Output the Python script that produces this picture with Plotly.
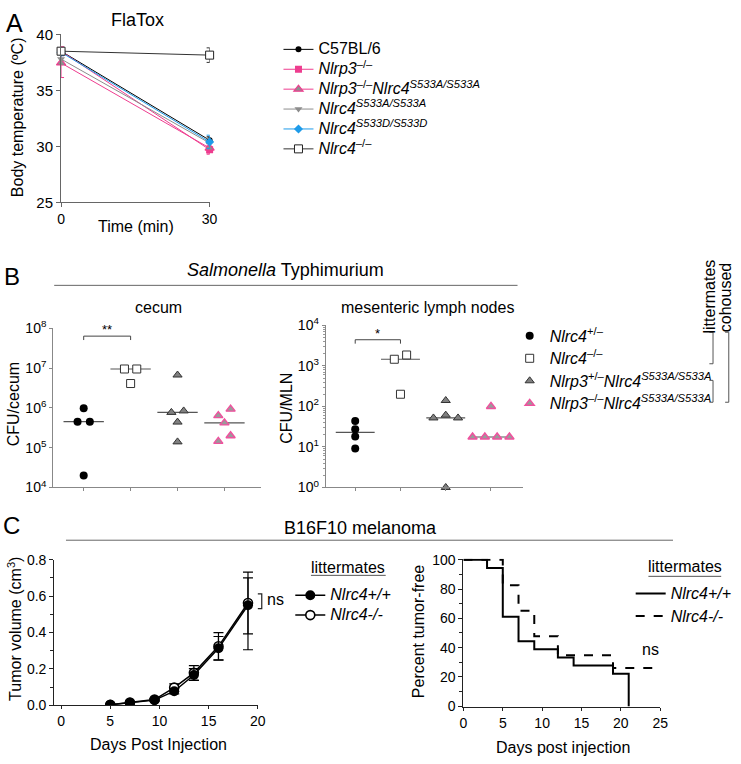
import numpy as np
import plotly.graph_objects as go

W, H = 741, 764
FONT = "Liberation Sans, Arial, sans-serif"

# ---------------- Panel A data (FlaTox, body temperature) ----------------
a_time = [0, 30]
a_names = ["C57BL/6",
           "<i>Nlrp3</i><sup>–/–</sup>",
           "<i>Nlrp3</i><sup>–/–</sup><i>Nlrc4</i><sup><i>S533A/S533A</i></sup>",
           "<i>Nlrc4</i><sup><i>S533A/S533A</i></sup>",
           "<i>Nlrc4</i><sup><i>S533D/S533D</i></sup>",
           "<i>Nlrc4</i><sup>–/–</sup>"]
a_c57bl6 = [38.5, 30.55]
a_c57bl6_sem = [0.25, 0.3]
a_nlrp3_ko = [38.5, 29.7]
a_nlrp3_ko_sem = [0.4, 0.4]
a_nlrp3_ko_sa = [37.45, 29.85]
a_nlrp3_ko_sa_sem = [1.3, 0.45]
a_nlrc4_sa = [37.8, 30.3]
a_nlrc4_sa_sem = [0.5, 0.4]
a_nlrc4_sd = [38.4, 30.4]
a_nlrc4_sd_sem = [0.3, 0.6]
a_nlrc4_ko = [38.5, 38.15]
a_nlrc4_ko_sem = [0.2, 0.65]

# ---------------- Panel B data (Salmonella CFU) ----------------
b_names = ["<i>Nlrc4</i><sup>+/–</sup>",
           "<i>Nlrc4</i><sup>–/–</sup>",
           "<i>Nlrp3</i><sup>+/–</sup><i>Nlrc4</i><sup><i>S533A/S533A</i></sup>",
           "<i>Nlrp3</i><sup>–/–</sup><i>Nlrc4</i><sup><i>S533A/S533A</i></sup>"]
cecum_het = [9.8e5, 4.5e5, 4.5e5, 2e4]
cecum_ko = [9.5e6, 9.5e6, 4.1e6]
cecum_sa_het = [6.7e6, 8.4e5, 7.7e5, 4.4e5, 1.4e5]
cecum_sa_ko = [9.3e5, 6.4e5, 4.2e5, 2.0e5, 1.44e5]
mln_het = [44, 27.5, 18.2, 9.2]
mln_ko = [1860, 1460, 200]
mln_sa_het = [140, 61, 52, 52, 1]
mln_sa_ko = [100, 17.6, 17.6, 17.6, 17.6]
b_categories = [1, 2, 3, 4]

# ---------------- Panel C data (B16F10 melanoma) ----------------
c_days = [5, 7, 9.5, 11.5, 13.5, 16, 19]
c_vol_wt = [0.003, 0.013, 0.028, 0.077, 0.166, 0.313, 0.55]
c_vol_wt_up = [0.003, 0.004, 0.006, 0.015, 0.035, 0.065, 0.15]
c_vol_wt_dn = [0.003, 0.004, 0.006, 0.015, 0.030, 0.065, 0.245]
c_vol_ko = [0.003, 0.015, 0.031, 0.097, 0.178, 0.324, 0.562]
c_vol_ko_err = [0.003, 0.004, 0.006, 0.02, 0.04, 0.075, 0.17]
c_legend = ["<i>Nlrc4+/+</i>", "<i>Nlrc4-/-</i>"]

surv_t_wt = [0, 3, 5, 7, 9, 12, 14, 19, 21]
surv_wt = [100, 94.4, 61.1, 44.4, 38.9, 33.3, 27.8, 22.2, 0]
surv_t_ko = [0, 5, 7, 9, 12, 19, 25]
surv_ko = [100, 82.6, 65.2, 47.8, 34.8, 26.1, 26.1]

# ---------------- layout helpers (pixel geometry) ----------------
def xdom(l, r):
    return [l / W, r / W]

def ydom(top, bottom):
    return [1 - bottom / H, 1 - top / H]

def px(x):
    return x / W

def py(y):
    return 1 - y / H

PINK = "#EE3D8F"
BLUE = "#1E9BE9"
GREY = "#8C8C8C"

geo = {
    "A": dict(x=(58, 209), xr=[0, 30], y=(25, 197), yr=[25, 40]),
    "Bc": dict(x=(50, 261), xr=[0.35, 4.774], y=(326, 489), yr=[4, 8]),
    "Bm": dict(x=(327, 528), xr=[0.348, 4.717], y=(323, 489), yr=[0, 4]),
    "Ct": dict(x=(51, 258), xr=[-0.7, 20], y=(563, 712), yr=[0, 0.8]),
    "Cs": dict(x=(467, 667), xr=[0, 25], y=(562, 714), yr=[-0.7, 100.7]),
}


def swarm_offsets(vals, g, gap_px=7.0, step_px=12.5):
    """GraphPad-like scatter: spread points whose markers would overlap."""
    ppd = (g["y"][1] - g["y"][0]) / (g["yr"][1] - g["yr"][0])
    ppu = (g["x"][1] - g["x"][0]) / (g["xr"][1] - g["xr"][0])
    logv = np.log10(np.asarray(vals, dtype=float))
    order = list(np.argsort(-logv, kind="stable"))
    clusters, cur = [], [order[0]]
    for a, b in zip(order[:-1], order[1:]):
        if (logv[a] - logv[b]) * ppd < gap_px:
            cur.append(b)
        else:
            clusters.append(cur)
            cur = [b]
    clusters.append(cur)
    offs = np.zeros(len(vals))
    for cl in clusters:
        n = len(cl)
        slots = [(k - (n - 1) / 2) * step_px for k in range(n)]
        slots.sort(key=lambda s: (abs(s), -s))
        for idx, s in zip(cl, slots):
            offs[idx] = s / ppu
    return offs


fig = go.Figure()

# ---------------- Panel A traces ----------------
a_series = [
    (a_c57bl6, a_c57bl6_sem, dict(symbol="circle", size=6, color="black"), "black"),
    (a_nlrp3_ko, a_nlrp3_ko_sem, dict(symbol="square", size=7, color=PINK), PINK),
    (a_nlrp3_ko_sa, a_nlrp3_ko_sa_sem,
     dict(symbol="triangle-up", size=8, color="#8E8E8E", line=dict(color=PINK, width=1.2)), PINK),
    (a_nlrc4_sa, a_nlrc4_sa_sem, dict(symbol="triangle-down", size=7, color=GREY), GREY),
    (a_nlrc4_sd, a_nlrc4_sd_sem, dict(symbol="diamond", size=7, color=BLUE), BLUE),
    (a_nlrc4_ko, a_nlrc4_ko_sem,
     dict(symbol="square", size=8, color="white", line=dict(color="#222", width=1)), "#333"),
]
for name, (vals, sem, mk, col) in zip(a_names, a_series):
    fig.add_trace(go.Scatter(
        x=a_time, y=vals, mode="lines+markers", name=f'<span style="font-size:16px">{name}</span>',
        marker=mk, line=dict(color=col, width=1),
        error_y=dict(type="data", array=sem, color=col, thickness=1, width=3),
        cliponaxis=False, xaxis="x", yaxis="y", legend="legend"))

# ---------------- Panel B traces ----------------
b_styles = [
    dict(symbol="circle", size=8, color="black"),
    dict(symbol="square", size=8, color="white", line=dict(color="#333", width=1)),
    dict(symbol="triangle-up", size=8, color="#808080", line=dict(color="#333", width=1)),
    dict(symbol="triangle-up", size=8, color="#9A9A9A", line=dict(color="#F0519E", width=1.4)),
]
b_sets = [("x2", "y2", "Bc", [cecum_het, cecum_ko, cecum_sa_het, cecum_sa_ko], False),
          ("x3", "y3", "Bm", [mln_het, mln_ko, mln_sa_het, mln_sa_ko], True)]
for xa, ya, gk, groups, show in b_sets:
    for cat, name, vals, mk in zip(b_categories, b_names, groups, b_styles):
        med = float(np.median(vals))
        fig.add_trace(go.Scatter(
            x=[cat - 0.43, cat + 0.43], y=[med, med], mode="lines",
            line=dict(color="#555", width=1.2), showlegend=False, hoverinfo="skip",
            xaxis=xa, yaxis=ya))
        offs = swarm_offsets(vals, geo[gk])
        fig.add_trace(go.Scatter(
            x=cat + offs, y=vals, mode="markers",
            name=f'<span style="font-size:16px">{name}</span>',
            marker=mk, legendgroup=f"b{cat}", showlegend=show, cliponaxis=False,
            xaxis=xa, yaxis=ya, legend="legend2"))

# ---------------- Panel C traces ----------------
fig.add_trace(go.Scatter(
    x=c_days, y=c_vol_ko, mode="lines+markers",
    name=f'<span style="font-size:16px">{c_legend[1]}</span>',
    marker=dict(symbol="circle", size=9, color="white", line=dict(color="black", width=1.6)),
    line=dict(color="black", width=1.5),
    error_y=dict(type="data", array=c_vol_ko_err, color="black", thickness=1.2, width=5),
    xaxis="x4", yaxis="y4", legend="legend3", legendrank=2))
fig.add_trace(go.Scatter(
    x=c_days, y=c_vol_wt, mode="lines+markers",
    name=f'<span style="font-size:16px">{c_legend[0]}</span>',
    marker=dict(symbol="circle", size=10, color="black"),
    line=dict(color="black", width=1.5),
    error_y=dict(type="data", symmetric=False, array=c_vol_wt_up, arrayminus=c_vol_wt_dn,
                 color="black", thickness=1.2, width=5),
    xaxis="x4", yaxis="y4", legend="legend3", legendrank=1))

fig.add_trace(go.Scatter(
    x=surv_t_wt, y=surv_wt, mode="lines", line_shape="hv",
    name=f'<span style="font-size:16px">{c_legend[0]}</span>',
    line=dict(color="black", width=2), cliponaxis=False,
    xaxis="x5", yaxis="y5", legend="legend4"))
fig.add_trace(go.Scatter(
    x=surv_t_ko, y=surv_ko, mode="lines", line_shape="hv",
    name=f'<span style="font-size:16px">{c_legend[1]}</span>',
    line=dict(color="black", width=2, dash="dash"), cliponaxis=False,
    xaxis="x5", yaxis="y5", legend="legend4"))

# ---------------- axes ----------------
def axis(g, which, anchor, **kw):
    d = dict(
        domain=xdom(*g["x"]) if which == "x" else ydom(*g["y"]),
        range=g["xr"] if which == "x" else g["yr"],
        anchor=anchor, showgrid=False, zeroline=False, showline=True,
        linecolor="#555", linewidth=1, ticks="outside", ticklen=4, tickwidth=1,
        tickcolor="#555", tickfont=dict(size=14, color="black", family=FONT),
        fixedrange=True)
    d.update(kw)
    return d

fig.update_layout(
    xaxis=axis(geo["A"], "x", "y", tickvals=[0, 30], linecolor="#666", tickcolor="#666"),
    yaxis=axis(geo["A"], "y", "x", tickvals=[25, 30, 35, 40], linecolor="#666", tickcolor="#666",
               tickfont=dict(size=15, color="black", family=FONT)),
    xaxis2=axis(geo["Bc"], "x", "y2", tickvals=b_categories, showticklabels=False,
                ticklen=3, linecolor="#888", tickcolor="#888"),
    yaxis2=axis(geo["Bc"], "y", "x2", type="log", tickvals=[1e4, 1e5, 1e6, 1e7, 1e8],
                ticktext=["10<sup>4</sup>", "10<sup>5</sup>", "10<sup>6</sup>",
                          "10<sup>7</sup>", "10<sup>8</sup>"],
                linecolor="#888", tickcolor="#888", ticklen=3),
    xaxis3=axis(geo["Bm"], "x", "y3", tickvals=b_categories, showticklabels=False,
                ticklen=3, linecolor="#888", tickcolor="#888"),
    yaxis3=axis(geo["Bm"], "y", "x3", type="log", tickvals=[1, 10, 100, 1e3, 1e4],
                ticktext=["10<sup>0</sup>", "10<sup>1</sup>", "10<sup>2</sup>",
                          "10<sup>3</sup>", "10<sup>4</sup>"],
                linecolor="#888", tickcolor="#888", ticklen=3,
                minor=dict(ticks="outside", ticklen=2, tickcolor="#999", dtick="D1")),
    xaxis4=axis(geo["Ct"], "x", "y4", tickvals=[0, 5, 10, 15, 20], linecolor="#222",
                tickcolor="#222", ticklen=3),
    yaxis4=axis(geo["Ct"], "y", "x4", tickvals=[0, 0.2, 0.4, 0.6, 0.8],
                ticktext=["0.0", "0.2", "0.4", "0.6", "0.8"], linecolor="#222",
                tickcolor="#222", minor=dict(ticks="outside", ticklen=3, dtick=0.1,
                                             tickcolor="#222")),
    xaxis5=axis(geo["Cs"], "x", "y5", tickvals=[0, 5, 10, 15, 20, 25], linecolor="#222",
                tickcolor="#222", ticklen=3),
    yaxis5=axis(geo["Cs"], "y", "x5", tickvals=[0, 20, 40, 60, 80, 100], linecolor="#222",
                tickcolor="#222", minor=dict(ticks="outside", ticklen=3, dtick=10,
                                             tickcolor="#222")),
)

# ---------------- legends ----------------
def legend(left, top, size):
    return dict(x=px(left), y=py(top), xanchor="left", yanchor="top",
                bgcolor="rgba(0,0,0,0)", borderwidth=0, itemwidth=30,
                tracegroupgap=0, font=dict(size=size, family=FONT, color="black"),
                itemclick=False, itemdoubleclick=False)

fig.update_layout(
    legend=legend(279, 25, 13),
    legend2=legend(514, 317, 15),
    legend3=legend(291, 584, 13),
    legend4=legend(637, 581, 15),
    showlegend=True,
)

# ---------------- texts ----------------
ann = []
def text(x, y, t, size=16, angle=0, xref="paper", **kw):
    ann.append(dict(x=px(x) if xref == "paper" else x, y=py(y), xref=xref, yref="paper",
                    text=t, showarrow=False, textangle=angle,
                    font=dict(size=size, family=FONT, color="black"),
                    xanchor="center", yanchor="middle", **kw))

text(11, 13, "A", 25)
text(8, 273, "B", 24)
text(8, 528, "C", 24)
text(136, 10, "FlaTox", 18)
text(14, 110, "Body temperature (ºC)", 16, -90)
text(134, 222, "Time (min)", 16)
text(286, 266, "<i>Salmonella</i> Typhimurium", 18)
text(157, 305, "cecum", 16)
text(430, 305, "mesenteric lymph nodes", 16)
text(10, 404, "CFU/cecum", 16, -90)
text(287, 408, "CFU/MLN", 16, -90)
text(1.5, 327, "**", 13, xref="x2")
text(1.5, 331, "*", 13, xref="x3")
text(717, 293, "littermates", 16, -90)
text(733, 295, "cohoused", 16, -90)
text(362, 530, "B16F10 melanoma", 18)
text(11, 634, "Tumor volume (cm<sup>3</sup>)", 16, -90)
text(157, 752, "Days Post Injection", 16)
text(276, 604, "ns", 16)
text(350, 571, "littermates", 16)
text(422, 637, "Percent tumor-free", 16, -90)
text(568, 755, "Days post injection", 16)
text(657, 655, "ns", 16)
text(692, 570, "littermates", 16)
fig.update_layout(annotations=ann)

# ---------------- decorative lines ----------------
shapes = []
def pline(x0, y0, x1, y1, color="#666", width=1):
    shapes.append(dict(type="line", xref="paper", yref="paper", x0=px(x0), y0=py(y0),
                       x1=px(x1), y1=py(y1), line=dict(color=color, width=width)))

def ppath(pts, color="#555", width=1):
    d = "M" + " L".join(f"{px(a):.5f},{py(b):.5f}" for a, b in pts)
    shapes.append(dict(type="path", xref="paper", yref="paper", path=d,
                       line=dict(color=color, width=width)))

pline(51, 282, 522, 282)
pline(63, 543, 680, 543)
pline(312, 579, 388, 579, "#555")
pline(655, 580, 729, 580, "#555")
for xa, ytop in (("x2", 334), ("x3", 337.7)):
    shapes.append(dict(type="path", xref=xa, yref="paper",
                       path=f"M1,{py(ytop + 4):.5f} L1,{py(ytop):.5f} L2,{py(ytop):.5f} L2,{py(ytop + 4):.5f}",
                       line=dict(color="#444", width=1)))
ppath([(717, 330), (720.7, 330), (720.7, 362.3), (717, 362.3)])
ppath([(717, 379.3), (720.7, 379.3), (720.7, 401.7), (717, 401.7)])
ppath([(733, 330), (736.7, 330), (736.7, 401.7), (733, 401.7)])
ppath([(258, 598), (262, 598), (262, 613), (258, 613)], "#222", 1.2)
fig.update_layout(shapes=shapes)

fig.update_layout(width=W, height=H, margin=dict(l=0, r=0, t=0, b=0),
                  paper_bgcolor="white", plot_bgcolor="rgba(0,0,0,0)",
                  font=dict(family=FONT, color="black"))

fig.write_html("out.html", config={"displayModeBar": False},
               post_script="document.body.style.margin='0px';"
                           "document.body.style.overflow='hidden';"
                           "document.documentElement.style.overflow='hidden';")
